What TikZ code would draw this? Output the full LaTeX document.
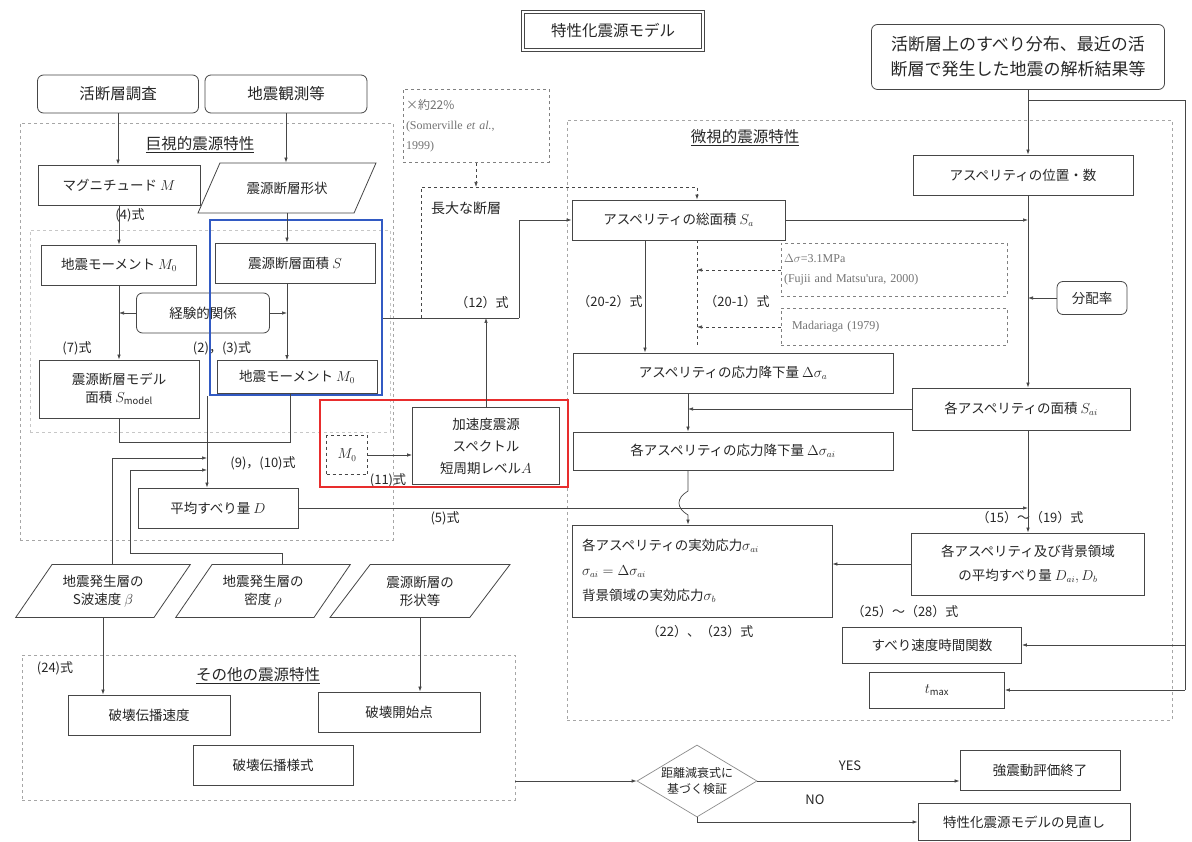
\documentclass[tikz,border=0pt]{standalone}
\usepackage{fontspec}
\setmainfont{Noto Sans CJK JP}
\newfontfamily\refserif{Liberation Serif}
\usetikzlibrary{arrows.meta,positioning,shapes.geometric,calc}
\definecolor{hlblue}{RGB}{50,90,195}
\definecolor{hlred}{RGB}{232,45,45}
\definecolor{lnegray}{RGB}{70,70,70}
\newcommand{\fsBig}{\fontsize{17}{25}\selectfont}
\newcommand{\fsMid}{\fontsize{15.5}{20}\selectfont}
\newcommand{\fsBox}{\fontsize{13.5}{18}\selectfont}
\newcommand{\fsLbl}{\fontsize{13}{16}\selectfont}
\newcommand{\fsSmall}{\fontsize{12}{20}\selectfont}
\newcommand{\fsEff}{\fontsize{13.5}{25}\selectfont}

\begin{document}
\begin{tikzpicture}[
  x=1pt,y=-1pt,
  every node/.style={font=\fsBox,text=black!85},
  box/.style={draw=lnegray,line width=0.8pt,inner sep=2pt,align=center},
  rbox/.style={box,rounded corners=6pt},
  dbox/.style={draw=black!50,dashed,line width=0.7pt,inner sep=3pt,text=black!55,font=\fsSmall},
  para/.style={box,trapezium,trapezium left angle=50,trapezium right angle=130,trapezium stretches=true},
  region/.style={draw=black!35,dashed,line width=0.6pt,inner sep=0pt},
  lbl/.style={font=\fsLbl},
  rtitle/.style={font=\fsMid},
  hl/.style={line width=2.6pt,inner sep=0pt},
  ln/.style={draw=lnegray,line width=0.7pt},
  arr/.style={ln,-{Latex[length=5pt,width=3.5pt]}},
  darr/.style={arr,dashed},
]
  \fill[white] (0,0) rectangle (1192,842);
  \useasboundingbox (0,0) rectangle (1192,842);

  % Regions
  \node[region,minimum width=373,minimum height=417] (macroReg) at (206.5,331.5) {};
  \node[region,draw=black!22,minimum width=360,minimum height=202] (macroIn) at (210,331) {};
  \node[region,minimum width=605,minimum height=600] (microReg) at (869.5,420) {};
  \node[region,minimum width=493,minimum height=145] (otherReg) at (268.5,727.5) {};

  \node[rtitle] (macroTtl) at (200,145) {\underline{巨視的震源特性}};
  \node[rtitle] (microTtl) at (745,138) {\underline{微視的震源特性}};
  \node[rtitle] (otherTtl) at (258,676) {\underline{その他の震源特性}};

  % Top
  \node[box,double,double distance=1.8pt,minimum width=180,minimum height=38,font=\fsMid] (title) at (613,31) {特性化震源モデル};
  \node[rbox,minimum width=293,minimum height=65,font=\fsBig] (srcSlip) at (1018,57) {活断層上のすべり分布、最近の活\\断層で発生した地震の解析結果等};
  \node[rbox,minimum width=161,minimum height=38,font=\fsMid] (survey) at (118,94) {活断層調査};
  \node[rbox,minimum width=162,minimum height=38,font=\fsMid] (observ) at (286,94) {地震観測等};

  % Macro characteristics
  \node[box,minimum width=162,minimum height=40] (mag) at (119,185) {マグニチュード $M$};
  \node[para,minimum width=178,minimum height=50] (shp) at (287,188) {震源断層形状};
  \node[box,minimum width=155,minimum height=40] (M0a) at (119,265) {地震モーメント $M_0$};
  \node[box,minimum width=160,minimum height=40] (area) at (295,263) {震源断層面積 $S$};
  \node[rbox,minimum width=133,minimum height=40] (emp) at (203,313) {経験的関係};
  \node[box,minimum width=160,minimum height=58] (Smodel) at (119,389) {震源断層モデル\\面積 $S_{\mathrm{model}}$};
  \node[box,minimum width=160,minimum height=33] (M0b) at (297,377) {地震モーメント $M_0$};
  \node[box,minimum width=160,minimum height=40] (D) at (218,508) {平均すべり量 $D$};

  % Short-period level
  \node[box,dashed,minimum width=41,minimum height=39] (M0d) at (347,455) {$M_0$};
  \node[box,minimum width=147,minimum height=77,font=\fontsize{13.5}{22}\selectfont] (A) at (486,446) {加速度震源\\スペクトル\\短周期レベル$A$};
  \node[dbox,align=left,text width=140,minimum height=73] (som) at (476,126) {×約22\%\\{\refserif (Somerville \textit{et al.},}\\{\refserif 1999)}};

  % Micro characteristics
  \node[box,minimum width=213,minimum height=40] (Sa) at (678.5,220) {アスペリティの総面積 $S_a$};
  \node[box,minimum width=220,minimum height=40] (pos) at (1023,175) {アスペリティの位置・数};
  \node[rbox,minimum width=70,minimum height=33] (dist) at (1092,298) {分配率};
  \node[dbox,align=left,text width=220,minimum height=53] (fuji) at (894,270) {{\refserif $\Delta\sigma$=3.1MPa}\\{\refserif (Fujii and Matsu'ura, 2000)}};
  \node[dbox,align=left,text width=220,minimum height=37] (mada) at (894,327) {\hspace{8pt}{\refserif Madariaga (1979)}};
  \node[box,minimum width=320,minimum height=40] (sd) at (733,373) {アスペリティの応力降下量 $\Delta\sigma_a$};
  \node[box,minimum width=218,minimum height=42] (Sai) at (1021,409) {各アスペリティの面積 $S_{ai}$};
  \node[box,minimum width=320,minimum height=38] (sdi) at (733,451) {各アスペリティの応力降下量 $\Delta\sigma_{ai}$};
  \node[box,align=left,text width=240,minimum width=260,minimum height=92,font=\fsEff] (eff) at (702,571) {各アスペリティの実効応力$\sigma_{ai}$\\$\sigma_{ai}=\Delta\sigma_{ai}$\\背景領域の実効応力$\sigma_b$};
  \node[box,minimum width=233,minimum height=62,font=\fontsize{13.5}{24}\selectfont] (DaDb) at (1028,564) {各アスペリティ及び背景領域\\の平均すべり量 $D_{ai}, D_b$};
  \node[box,minimum width=179,minimum height=36] (slip) at (932,645) {すべり速度時間関数};
  \node[box,minimum width=135,minimum height=36] (tmax) at (937,690) {$t_{\mathrm{max}}$};

  % Other characteristics
  \node[para,minimum width=175,minimum height=53] (vel) at (103,591) {地震発生層の\\S波速度 $\beta$};
  \node[para,minimum width=175,minimum height=53] (dens) at (263,591) {地震発生層の\\密度 $\rho$};
  \node[para,minimum width=180,minimum height=53] (shpEtc) at (420,591) {震源断層の\\形状等};
  \node[box,minimum width=162,minimum height=40] (rup) at (149,715) {破壊伝播速度};
  \node[box,minimum width=162,minimum height=40] (start) at (399,712) {破壊開始点};
  \node[box,minimum width=160,minimum height=40] (mode) at (273,765) {破壊伝播様式};

  % Verification
  \node[diamond,draw=black!45,line width=0.7pt,minimum width=120,minimum height=72,inner sep=0pt,aspect=1.7,align=center,font=\fontsize{12}{16}\selectfont] (dia) at (697,781) {距離減衰式に\\基づく検証};
  \node[box,minimum width=160,minimum height=40] (done) at (1040,770) {強震動評価終了};
  \node[box,minimum width=212,minimum height=37] (rev) at (1024,822) {特性化震源モデルの見直し};

  % Labels
  \node[lbl] (lb4) at (130,215) {(4)式};
  \node[lbl] (lb7) at (77,348) {(7)式};
  \node[lbl] (lb23) at (222,348) {(2)，(3)式};
  \node[lbl] (lb910) at (263,463) {(9)，(10)式};
  \node[lbl] (lb5) at (445,518) {(5)式};
  \node[lbl] (lb11) at (388,480) {(11)式};
  \node[lbl] (lb12) at (482,303) {（12）式};
  \node[lbl,font=\fontsize{14}{16}\selectfont] (lbLong) at (466,208) {長大な断層};
  \node[lbl] (lb202) at (610,302) {（20-2）式};
  \node[lbl] (lb201) at (737,302) {（20-1）式};
  \node[lbl] (lb1519) at (1030,518) {（15）～（19）式};
  \node[lbl] (lb2223) at (700,632) {（22）、（23）式};
  \node[lbl] (lb2528) at (905,612) {（25）～（28）式};
  \node[lbl] (lb24) at (55,668) {(24)式};
  \node[lbl] (lbYes) at (850,766) {YES};
  \node[lbl] (lbNo) at (815,800) {NO};

  % Highlights
  \node[hl,draw=hlblue,minimum width=172,minimum height=175] (hlbox) at (296,307.5) {};
  \node[hl,draw=hlred,minimum width=248,minimum height=87] (hlredbox) at (444,443.5) {};

  % Junctions
  \coordinate (colS) at (287,0);
  \coordinate (jn) at (207,442);
  \coordinate (jR) at (290,442);
  \coordinate (cVel) at (112,458);
  \coordinate (cDenTop) at (282,553);
  \coordinate (cDen) at (130,470);
  \coordinate (j12) at (519,318);
  \coordinate (lf) at (421,187);
  \coordinate (cLF) at (697,187);
  \coordinate (colR) at (1028,0);
  \coordinate (cTop) at (1185,100);
  \coordinate (colL) at (645,0);
  \coordinate (colDash) at (697,0);
  \coordinate (dashEnd) at (697,345);
  \coordinate (colDrop) at (688,0);
  \coordinate (hopA) at (688,491);
  \coordinate (hopB) at (688,515);

  % Connectors (macro)
  \draw[arr] (survey.south) -- (survey.south |- mag.north);
  \draw[arr] (observ.south) -- (observ.south |- shp.north);
  \draw[arr] (mag) -- (M0a);
  \draw[arr] (M0a) -- (Smodel);
  \draw[arr] (shp.south) -- (shp.south |- area.north);
  \draw[arr] (area.south -| colS) -- (M0b.north -| colS);
  \draw[arr] (emp.west) -- (emp.west -| M0a);
  \draw[arr] (emp.east) -- (emp.east -| colS);
  \draw[ln] (Smodel.south) |- (jR) -- (M0b.south -| jR);
  \draw[arr] (hlbox.south -| jn) -- (D.north -| jn);
  \draw[arr] (vel.north -| cVel) |- (jn |- cVel);
  \draw[arr] (dens.north -| cDenTop) -- (cDenTop) -| (cDen) -- (jn |- cDen);
  \draw[arr] (D.east) -- (D.east -| colR);
  \draw[arr] (M0d.east) -- (M0d.east -| A.west);

  % Connectors (12) and long fault
  \draw[ln] (hlbox.east |- j12) -- (j12);
  \draw[arr] (j12) |- (Sa.west);
  \draw[arr] (A.north) -- (A.north |- j12);
  \draw[darr] (som.south) -- (som.south |- lf);
  \draw[darr] (lf |- j12) -- (lf) -- (cLF) -- (cLF |- Sa.north);

  % Connectors (micro)
  \draw[arr] (srcSlip.south -| colR) -- (pos.north -| colR);
  \draw[ln] (cTop -| colR) -- (cTop) -- (cTop |- tmax.east);
  \draw[arr] (cTop |- slip.east) -- (slip.east);
  \draw[arr] (cTop |- tmax.east) -- (tmax.east);
  \draw[arr] (Sa.east) -- (Sa.east -| colR);
  \draw[arr] (pos.south -| colR) -- (Sai.north -| colR);
  \draw[arr] (dist.west) -- (dist.west -| colR);
  \draw[arr] (Sai.south -| colR) -- (DaDb.north -| colR);
  \draw[arr] (Sai.west) -- (Sai.west -| colDrop);
  \draw[arr] (Sa.south -| colL) -- (sd.north -| colL);
  \draw[ln,dashed] (Sa.south -| colDash) -- (dashEnd);
  \draw[darr] (fuji.west) -- (fuji.west -| colDash);
  \draw[darr] (mada.west) -- (mada.west -| colDash);
  \draw[arr] (sd.south -| colDrop) -- (sdi.north -| colDrop);
  \draw[arr] (sdi.south -| colDrop) -- (hopA) .. controls (676,498) and (676,508) .. (hopB) -- (eff.north -| colDrop);
  \draw[arr] (DaDb.west) -- (DaDb.west -| eff.east);

  % Connectors (other, verification)
  \draw[arr] (vel.south) -- (vel.south |- rup.north);
  \draw[arr] (shpEtc.south) -- (shpEtc.south |- start.north);
  \draw[arr] (otherReg.east |- dia) -- (dia.west);
  \draw[arr] (dia.east) -- (dia.east -| done.west);
  \draw[arr] (dia.south) |- (rev.west);
\end{tikzpicture}
\end{document}
